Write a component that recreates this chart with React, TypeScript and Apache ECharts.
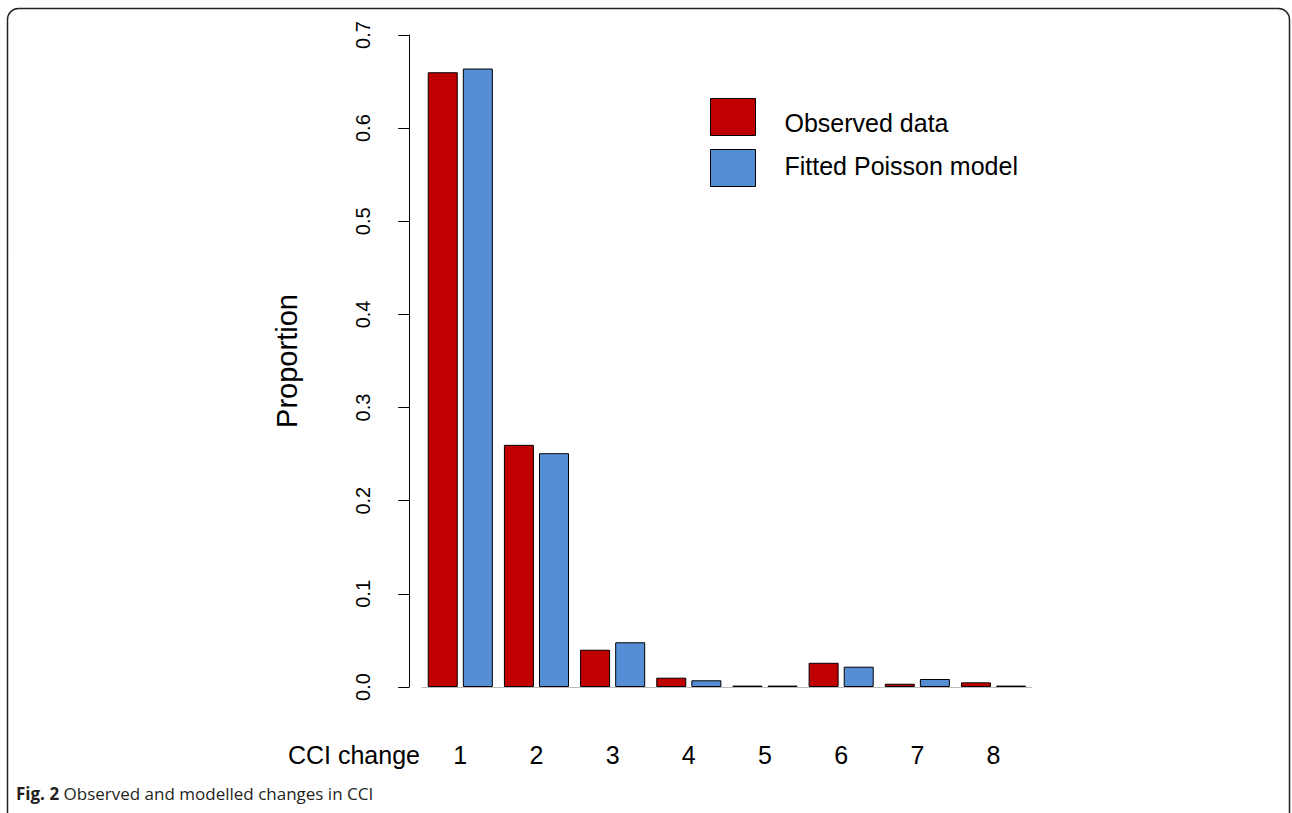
import React, { useEffect, useRef } from "react";
import * as echarts from "echarts";

const categories = ["1", "2", "3", "4", "5", "6", "7", "8"];
const observed = [0.66, 0.26, 0.04, 0.01, 0.0015, 0.026, 0.0035, 0.005];
const fitted = [0.664, 0.251, 0.048, 0.0072, 0.0015, 0.0218, 0.0086, 0.0015];
const yTicks = [0, 0.1, 0.2, 0.3, 0.4, 0.5, 0.6, 0.7];
const seriesNames = ["Observed data", "Fitted Poisson model"];

const FONT = "'Liberation Sans', Arial, Helvetica, sans-serif";

export default function App() {
  const ref = useRef<HTMLDivElement>(null);
  useEffect(() => {
    const chart = echarts.init(ref.current!, null, { renderer: "svg" });
    chart.setOption({
      animation: false,
      backgroundColor: "#ffffff",
      grid: { left: 422.2, top: 35, width: 609.4, height: 652 },
      legend: {
        orient: "vertical",
        left: 710,
        top: 98,
        padding: 0,
        itemWidth: 45,
        itemHeight: 37,
        itemGap: 13,
        icon: "rect",
        itemStyle: { borderColor: "#000", borderWidth: 1 },
        formatter: (name: string) => (name === seriesNames[0] ? `{a|${name}}` : `{b|${name}}`),
        textStyle: {
          fontSize: 25,
          fontFamily: FONT,
          color: "#000",
          rich: {
            a: { fontSize: 25, fontFamily: FONT, color: "#000", padding: [12, 0, 0, 24] },
            b: { fontSize: 25, fontFamily: FONT, color: "#000", padding: [0, 0, 4, 24] },
          },
        },
        data: seriesNames,
      },
      xAxis: {
        type: "category",
        data: categories,
        axisLine: { show: true, lineStyle: { color: "#bbbbbb", width: 1 } },
        axisTick: { show: false },
        axisLabel: { fontSize: 25, fontFamily: FONT, color: "#000", margin: 55 },
      },
      yAxis: {
        type: "value",
        min: 0,
        max: 0.7,
        interval: 0.1,
        offset: 13,
        name: "Proportion",
        nameLocation: "middle",
        nameGap: 108,
        nameTextStyle: { fontSize: 29, fontFamily: FONT, color: "#000" },
        splitLine: { show: false },
        axisLine: { show: true, lineStyle: { color: "#000", width: 1 } },
        axisTick: { show: true, length: 11, lineStyle: { color: "#000" } },
        axisLabel: {
          rotate: 90,
          fontSize: 20,
          fontFamily: FONT,
          color: "#000",
          margin: 36,
          formatter: (v: number) => v.toFixed(1),
        },
        data: yTicks,
      },
      series: [
        {
          name: seriesNames[0],
          type: "bar",
          data: observed,
          barWidth: 30,
          barGap: "17%",
          itemStyle: { color: "#C00000", borderColor: "#000", borderWidth: 1 },
        },
        {
          name: seriesNames[1],
          type: "bar",
          data: fitted,
          barWidth: 30,
          itemStyle: { color: "#558ED5", borderColor: "#000", borderWidth: 1 },
        },
      ],
      graphic: [
        {
          type: "rect",
          shape: { x: 7.5, y: 8.5, width: 1282, height: 900, r: 11 },
          style: { fill: "none", stroke: "#222", lineWidth: 1.5 },
          silent: true,
        },
        {
          type: "text",
          x: 420,
          y: 755,
          style: {
            text: "CCI change",
            font: `25px ${FONT}`,
            fill: "#000",
            textAlign: "right",
            textVerticalAlign: "middle",
          },
        },
        {
          type: "text",
          x: 16,
          y: 793,
          style: {
            text: "{b|Fig. 2} Observed and modelled changes in CCI",
            fill: "#231f20",
            textVerticalAlign: "middle",
            rich: {
              b: { fontFamily: "'Open Sans', sans-serif", fontWeight: "bold", fontSize: 17, fill: "#231f20" },
            },
            fontFamily: "'Open Sans', sans-serif",
            fontSize: 17,
          },
        },
      ],
    });
    return () => chart.dispose();
  }, []);
  return (
    <div
      ref={ref}
      style={{ position: "fixed", left: 0, top: 0, width: 1292, height: 813 }}
    />
  );
}
